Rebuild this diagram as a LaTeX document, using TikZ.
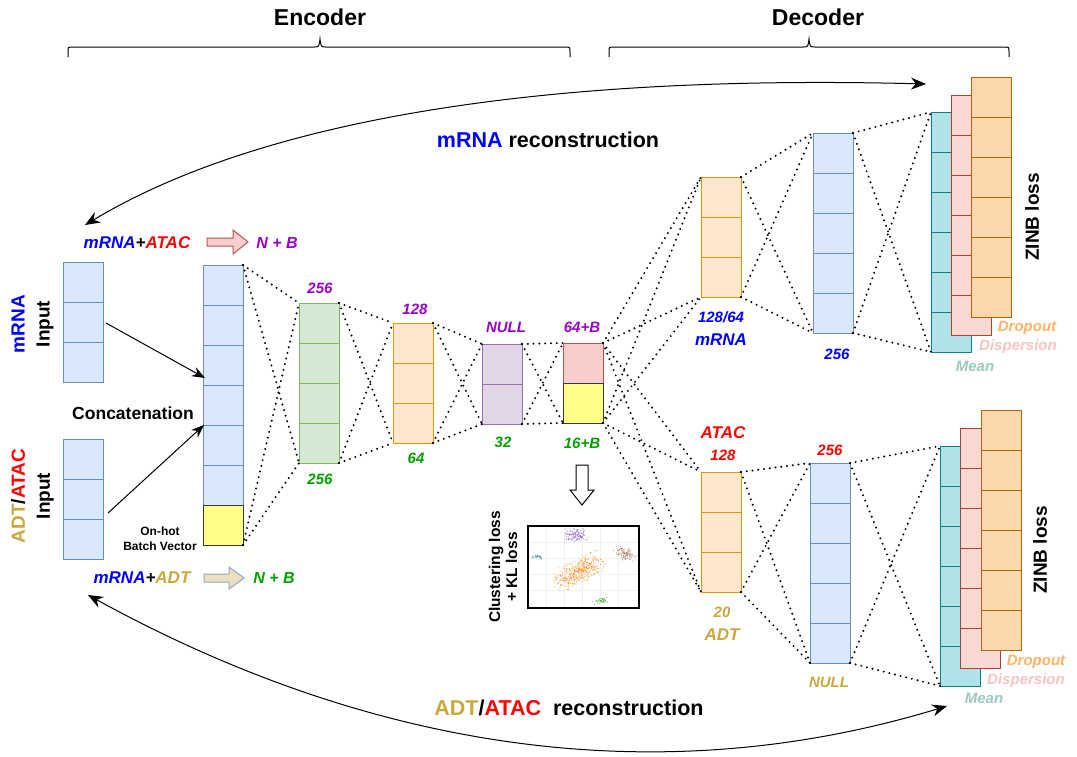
\documentclass[tikz,border=0pt]{standalone}
\usepackage{fontspec}
\setmainfont{Liberation Sans}
\usetikzlibrary{arrows.meta}

\definecolor{cblue}{HTML}{0000FF}
\definecolor{cred}{HTML}{FF0000}
\definecolor{cpurp}{HTML}{9900CC}
\definecolor{cgreen}{HTML}{00A000}
\definecolor{cgold}{HTML}{C9A93D}
\definecolor{cdrop}{HTML}{FFB366}
\definecolor{cdisp}{HTML}{F8C4C0}
\definecolor{cmean}{HTML}{9CC9C0}
\definecolor{bfill}{HTML}{DAE8FC}\definecolor{bdraw}{HTML}{6C8EBF}
\definecolor{gfill}{HTML}{D5E8D4}\definecolor{gdraw}{HTML}{82B366}
\definecolor{ofill}{HTML}{FFE6CC}\definecolor{odraw}{HTML}{D79B00}
\definecolor{pfill}{HTML}{E1D5E7}\definecolor{pdraw}{HTML}{9673A6}
\definecolor{rfill}{HTML}{F8CECC}\definecolor{rdraw}{HTML}{B85450}
\definecolor{yfill}{HTML}{FFFF88}\definecolor{ydraw}{HTML}{36393D}
\definecolor{tfill}{HTML}{B0E3E6}\definecolor{tdraw}{HTML}{0E8088}
\definecolor{dfill}{HTML}{FAD9D5}\definecolor{ddraw}{HTML}{AE4132}
\definecolor{ffill}{HTML}{FAD7AC}\definecolor{fdraw}{HTML}{B46504}
\definecolor{tanfill}{HTML}{EBE0C0}\definecolor{tandraw}{HTML}{8FA6C8}
\definecolor{sPurple}{HTML}{9467BD}
\definecolor{sBrown}{HTML}{A0705F}
\definecolor{sBlue}{HTML}{1F77B4}
\definecolor{sOrange}{HTML}{FF8C1A}
\definecolor{sGreen}{HTML}{2CA02C}

\tikzset{
  box/.style={inner sep=0pt, outer sep=0pt, minimum width=40pt, line width=1pt, anchor=north west},
  conn/.style={line width=2.2pt, dash pattern=on 0pt off 5.8pt, line cap=round},
  lbl/.style={font=\bfseries\itshape\fontsize{15}{18}\selectfont, inner sep=0pt},
  big/.style={font=\bfseries\fontsize{21.5}{25}\selectfont, inner sep=0pt},
  rlbl/.style={rotate=90, align=center, inner sep=0pt},
  recarrow/.style={line width=1pt, {Stealth[length=15pt,width=12pt]}-{Stealth[length=15pt,width=12pt]}},
  catarrow/.style={line width=1pt, -{Stealth[length=13pt,width=10pt]}},
  brace/.style={line width=1pt}
}

\newcommand\layerbox[7]{%
  \pgfmathsetmacro\hh{#4*#5}%
  \node[box, fill=#6, draw=#7, minimum height=\hh pt] (#1) at (#2,#3) {};
  \pgfmathtruncatemacro\lastk{#4-1}%
  \foreach \k in {1,...,\lastk} \draw[#7, line width=1pt] (#2,{#3+\k*#5}) -- ++(40,0);
}
\newcommand\fan[4]{%
  \draw[conn] (#1) -- (#3);
  \draw[conn] (#1) -- (#4);
  \draw[conn] (#2) -- (#3);
  \draw[conn] (#2) -- (#4);
}

\begin{document}
\begin{tikzpicture}[x=1pt,y=-1pt]
\useasboundingbox (0,0) rectangle (1077,756);
\fill[white] (0,0) rectangle (1077,756);

% ---------- titles and braces
\node[font=\bfseries\fontsize{23}{27}\selectfont] (enc) at (320,17) {Encoder};
\node[font=\bfseries\fontsize{23}{27}\selectfont] (dec) at (818,17) {Decoder};
\draw[brace] (68,57) -- (68,52) .. controls (68,47) .. (73,47) -- (314,47) .. controls (319,47) .. (320,39) .. controls (321,47) .. (326,47) -- (565,47) .. controls (570,47) .. (570,52) -- (570,57);
\draw[brace] (609,57) -- (609,52) .. controls (609,47) .. (614,47) -- (803,47) .. controls (808,47) .. (809,39) .. controls (810,47) .. (815,47) -- (1004,47) .. controls (1009,47) .. (1009,52) -- (1009,57);

% ---------- encoder layers
\layerbox{inM}{63}{262}{3}{40}{bfill}{bdraw}
\layerbox{inA}{63}{439}{3}{40}{bfill}{bdraw}
\layerbox{cat}{203}{265}{6}{40}{bfill}{bdraw}
\node[box, fill=yfill, draw=ydraw, minimum height=40pt] (catb) at (203,505) {};
\layerbox{g1}{299}{303}{4}{40}{gfill}{gdraw}
\layerbox{o1}{393}{323}{3}{40}{ofill}{odraw}
\layerbox{p1}{482}{344}{2}{40}{pfill}{pdraw}
\node[box, fill=rfill, draw=rdraw, minimum height=40pt] (latA) at (563,343) {};
\node[box, fill=yfill, draw=ydraw, minimum height=40pt] (latB) at (563,383) {};

% ---------- decoder layers
\layerbox{dO1}{701}{177}{3}{40}{ofill}{odraw}
\layerbox{dB1}{813}{133}{5}{40}{bfill}{bdraw}
\layerbox{mean1}{931}{112}{6}{40}{tfill}{tdraw}
\layerbox{disp1}{951}{95}{6}{40}{dfill}{ddraw}
\layerbox{drop1}{971}{77}{6}{40}{ffill}{fdraw}
\layerbox{dO2}{701}{472}{3}{40}{ofill}{odraw}
\layerbox{dB2}{810}{463}{5}{40}{bfill}{bdraw}
\layerbox{mean2}{940}{446}{6}{40}{tfill}{tdraw}
\layerbox{disp2}{960}{428}{6}{40}{dfill}{ddraw}
\layerbox{drop2}{981}{410}{6}{40}{ffill}{fdraw}

% ---------- dotted fully-connected links
\fan{cat.north east}{catb.south east}{g1.north west}{g1.south west}
\fan{g1.north east}{g1.south east}{o1.north west}{o1.south west}
\fan{o1.north east}{o1.south east}{p1.north west}{p1.south west}
\fan{p1.north east}{p1.south east}{latA.north west}{latB.south west}
\fan{latA.north east}{latB.south east}{dO1.north west}{dO1.south west}
\fan{latA.north east}{latB.south east}{dO2.north west}{dO2.south west}
\fan{dO1.north east}{dO1.south east}{dB1.north west}{dB1.south west}
\fan{dB1.north east}{dB1.south east}{mean1.north west}{mean1.south west}
\fan{dO2.north east}{dO2.south east}{dB2.north west}{dB2.south west}
\fan{dB2.north east}{dB2.south east}{mean2.north west}{mean2.south west}

% ---------- concatenation arrows
\coordinate (mStart) at (106,323);
\coordinate (aStart) at (108,513);
\coordinate (catIn1) at (205,378);
\coordinate (catIn2) at (204,425);
\draw[catarrow] (mStart) -- (catIn1);
\draw[catarrow] (aStart) -- (catIn2);

% ---------- reconstruction arrows
\coordinate (recTL) at (85,225);
\coordinate (recTR) at (926,84);
\coordinate (recBL) at (88,595);
\coordinate (recBR) at (947,706);
\draw[recarrow] (recTL) .. controls (260,120) and (541,74) .. (recTR);
\draw[recarrow] (recBL) .. controls (378,754) and (664,792) .. (recBR);
\node[big] (mrec) at (548,140) {\textcolor{cblue}{mRNA} reconstruction};
\node[big] (arec) at (569,708) {\textcolor{cgold}{ADT}/\textcolor{cred}{ATAC}\ \ reconstruction};

% ---------- left labels
\node[rlbl, font=\bfseries\fontsize{19}{25}\selectfont] (lblM) at (32.5,324) {\textcolor{cblue}{mRNA}\\Input};
\node[rlbl, font=\bfseries\fontsize{19}{25}\selectfont] (lblA) at (32.5,496) {\textcolor{cgold}{ADT}/\textcolor{cred}{ATAC}\\Input};
\node[font=\bfseries\fontsize{17.5}{20}\selectfont, inner sep=0pt] (concat) at (133,413) {Concatenation};
\node[font=\bfseries\fontsize{12}{15}\selectfont, align=center, inner sep=0pt] (onehot) at (160,539) {On-hot\\Batch Vector};

% ---------- input combination labels with block arrows
\node[font=\bfseries\itshape\fontsize{17}{20}\selectfont, inner sep=0pt] (mA) at (137,243) {\textcolor{cblue}{mRNA}+\textcolor{cred}{ATAC}};
\draw[line width=1pt, fill=rfill, draw=rdraw] (207,238) -- (233,238) -- (233,230) -- (248,242) -- (233,254) -- (233,246) -- (207,246) -- cycle;
\node[font=\bfseries\itshape\fontsize{16}{19}\selectfont, inner sep=0pt, text=cpurp] (nb1) at (277,243) {N + B};
\node[font=\bfseries\itshape\fontsize{17}{20}\selectfont, inner sep=0pt] (mD) at (142,578) {\textcolor{cblue}{mRNA}+\textcolor{cgold}{ADT}};
\draw[line width=1pt, fill=tanfill, draw=tandraw] (204,574) -- (229,574) -- (229,567) -- (244,578) -- (229,589) -- (229,582) -- (204,582) -- cycle;
\node[font=\bfseries\itshape\fontsize{16}{19}\selectfont, inner sep=0pt, text=cgreen] (nb2) at (274,578) {N + B};

% ---------- encoder layer labels
\node[lbl, text=cpurp] (t256a) at (320,288) {256};
\node[lbl, text=cgreen] (b256a) at (320,479) {256};
\node[lbl, text=cpurp] (t128a) at (415,309) {128};
\node[lbl, text=cgreen] (b64a) at (416,458) {64};
\node[lbl, text=cpurp] (tnull) at (506,327) {NULL};
\node[lbl, text=cgreen] (b32) at (503,442) {32};
\node[lbl, text=cpurp] (t64b) at (582,327) {64+B};
\node[lbl, text=cgreen] (b16b) at (582,443) {16+B};

% ---------- clustering
\draw[line width=1pt, fill=white] (576,465) -- (588,465) -- (588,490) -- (594,490) -- (582,505) -- (570,490) -- (576,490) -- cycle;
\node[rlbl, font=\bfseries\fontsize{15.5}{17}\selectfont] (clus) at (503,567) {Clustering loss\\+ KL loss};
\begin{scope}
  \clip (528,526) rectangle (639,608);
  \foreach \gx in {546,564,582,600,618} \draw[black!6, line width=0.6pt] (\gx,526) -- (\gx,608);
  \foreach \gy in {542,558,574,590} \draw[black!6, line width=0.6pt] (528,\gy) -- (639,\gy);
  \pgfmathsetseed{11}
  \foreach \cx/\cy/\rx/\ry/\ang/\n/\col in {576/535/13/8/0/130/sPurple, 625/554/13/7/20/100/sBrown, 537/557/6/2.5/0/22/sBlue, 579/571/30/13/-28/420/sOrange, 600/601/9/3.5/-10/35/sGreen}{
    \foreach \i in {1,...,\n}{
      \pgfmathsetmacro\u{(rand+rand)/2*\rx}
      \pgfmathsetmacro\v{(rand+rand)/2*\ry}
      \pgfmathsetmacro\px{\cx+\u*cos(\ang)-\v*sin(\ang)}
      \pgfmathsetmacro\py{\cy+\u*sin(\ang)+\v*cos(\ang)}
      \fill[\col, opacity=0.7] (\px,\py) circle[radius=0.6];
    }
  }
\end{scope}
\node[box, draw=black, minimum width=111pt, minimum height=82pt, line width=1.2pt] (plot) at (528,526) {};

% ---------- decoder labels
\node[lbl, text=cblue] (d128) at (721,317) {128/64};
\node[lbl, text=cblue, font=\bfseries\itshape\fontsize{17}{20}\selectfont] (dmrna) at (721,340) {mRNA};
\node[lbl, text=cblue] (d256) at (837,354) {256};
\node[lbl, text=cred, font=\bfseries\itshape\fontsize{17}{20}\selectfont] (datac) at (723,433) {ATAC};
\node[lbl, text=cred] (d128b) at (723,455) {128};
\node[lbl, text=cgold] (d20) at (722,612) {20};
\node[lbl, text=cgold, font=\bfseries\itshape\fontsize{17}{20}\selectfont] (dadt) at (722,635) {ADT};
\node[lbl, text=cred] (d256b) at (830,450) {256};
\node[lbl, text=cgold] (dnull) at (829,682) {NULL};

\node[rlbl, font=\bfseries\fontsize{19}{22}\selectfont] (zinb1) at (1032,217) {ZINB loss};
\node[rlbl, font=\bfseries\fontsize{19}{22}\selectfont] (zinb2) at (1040,550) {ZINB loss};
\node[lbl, text=cdrop] (drop1l) at (1027,328) {Dropout};
\node[lbl, text=cdisp] (disp1l) at (1018,347) {Dispersion};
\node[lbl, text=cmean] (mean1l) at (975,366) {Mean};
\node[lbl, text=cdrop] (drop2l) at (1036,662) {Dropout};
\node[lbl, text=cdisp] (disp2l) at (1026,681) {Dispersion};
\node[lbl, text=cmean] (mean2l) at (984,698) {Mean};
\end{tikzpicture}
\end{document}
